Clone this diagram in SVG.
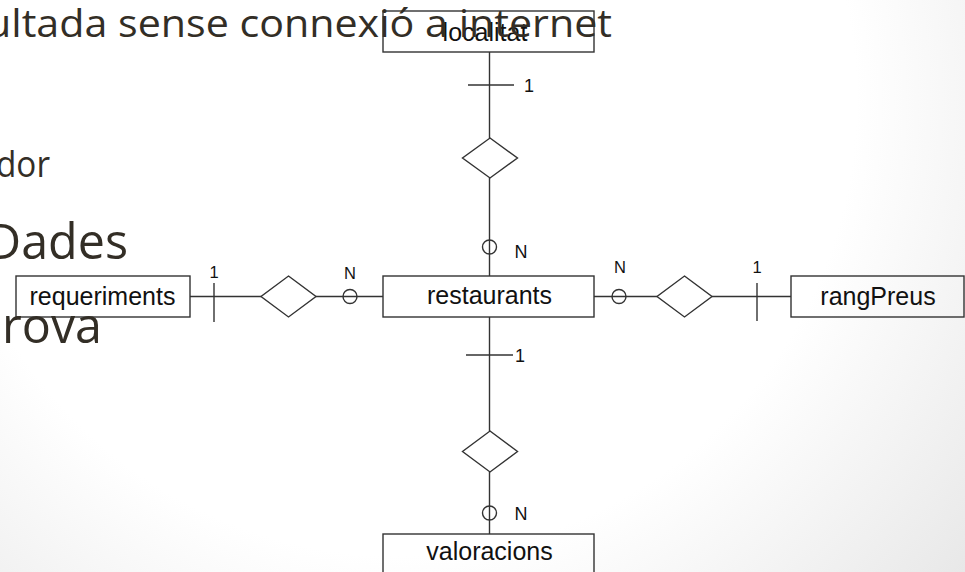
<svg xmlns="http://www.w3.org/2000/svg" width="965" height="572" viewBox="0 0 965 572">
<defs>
<radialGradient id="bg" gradientUnits="userSpaceOnUse" cx="400" cy="100" r="760">
<stop offset="0.6" stop-color="#ffffff"/>
<stop offset="1" stop-color="#e6e6e6"/>
</radialGradient>
<style>
.ent{fill:none;stroke:#333;stroke-width:1.4}
.rel{fill:none;stroke:#333;stroke-width:1.4}
.ln{fill:none;stroke:#333;stroke-width:1.4}
.opt{fill:none;stroke:#333;stroke-width:1.4}
.lbl{font-family:"Liberation Sans",Arial,sans-serif;font-size:25px;fill:#111;text-anchor:middle}
.card{font-family:"Liberation Sans",Arial,sans-serif;fill:#111;text-anchor:middle}
.big{font-family:"Open Sans","Noto Sans",sans-serif;fill:#332e26}
</style>
</defs>
<rect x="0" y="0" width="965" height="572" fill="url(#bg)"/>

<g id="connectors">
<!-- top -->
<line class="ln" x1="489.5" y1="52" x2="489.5" y2="138"/>
<line class="ln" x1="468" y1="85" x2="514" y2="85"/>
<line class="ln" x1="489.5" y1="178" x2="489.5" y2="276"/>
<circle class="opt" cx="489.5" cy="247" r="7"/>
<text class="card" x="529" y="92" font-size="18">1</text>
<text class="card" x="521" y="258" font-size="18">N</text>
<!-- left -->
<line class="ln" x1="190" y1="296.5" x2="261" y2="296.5"/>
<line class="ln" x1="214" y1="283" x2="214" y2="322"/>
<line class="ln" x1="316" y1="296.5" x2="383" y2="296.5"/>
<circle class="opt" cx="350" cy="296.5" r="7"/>
<text class="card" x="214" y="278" font-size="16.5">1</text>
<text class="card" x="350" y="279" font-size="16.5">N</text>
<!-- right -->
<line class="ln" x1="594" y1="296.5" x2="657" y2="296.5"/>
<line class="ln" x1="712" y1="296.5" x2="791" y2="296.5"/>
<line class="ln" x1="757" y1="283" x2="757" y2="321"/>
<circle class="opt" cx="619" cy="296.5" r="7"/>
<text class="card" x="620" y="273" font-size="16.5">N</text>
<text class="card" x="757" y="273" font-size="16.5">1</text>
<!-- bottom -->
<line class="ln" x1="489.5" y1="317" x2="489.5" y2="431"/>
<line class="ln" x1="466" y1="355" x2="513" y2="355"/>
<line class="ln" x1="489.5" y1="472" x2="489.5" y2="534"/>
<circle class="opt" cx="489.5" cy="513" r="7"/>
<text class="card" x="520" y="362" font-size="18">1</text>
<text class="card" x="521" y="520" font-size="18">N</text>
</g>

<g id="rel-top"><polygon class="rel" points="490,138 517.5,158 490,178 462.5,158"/></g>
<g id="rel-left"><polygon class="rel" points="288.5,276 316,296.5 288.5,317 261,296.5"/></g>
<g id="rel-right"><polygon class="rel" points="684.5,276 712,296.5 684.5,317 657,296.5"/></g>
<g id="rel-bottom"><polygon class="rel" points="490,431 517.5,451.5 490,472 462.5,451.5"/></g>

<g id="localitat">
<rect class="ent" x="383" y="11" width="211" height="41"/>
<text class="lbl" x="485" y="41">localitat</text>
</g>
<g id="restaurants">
<rect class="ent" x="383" y="276" width="211" height="41"/>
<text class="lbl" x="489.5" y="304">restaurants</text>
</g>
<g id="requeriments">
<rect class="ent" x="16" y="276" width="174" height="41"/>
<text class="lbl" x="102.5" y="305">requeriments</text>
</g>
<g id="rangPreus">
<rect class="ent" x="791" y="276" width="173" height="41"/>
<text class="lbl" x="878" y="305">rangPreus</text>
</g>
<g id="valoracions">
<rect class="ent" x="383" y="534" width="211" height="60"/>
<text class="lbl" x="489.5" y="560">valoracions</text>
</g>

<g id="slide-text">
<text class="big" x="-14" y="37" font-size="38" textLength="626" lengthAdjust="spacingAndGlyphs">ultada sense connexió a internet</text>
<text class="big" x="-4" y="177" font-size="36" textLength="54" lengthAdjust="spacingAndGlyphs">dor</text>
<text class="big" x="-14" y="259" font-size="49" textLength="142" lengthAdjust="spacingAndGlyphs">Dades</text>
<text class="big" x="2" y="343" font-size="49" textLength="100" lengthAdjust="spacingAndGlyphs">rova</text>
</g>
</svg>
